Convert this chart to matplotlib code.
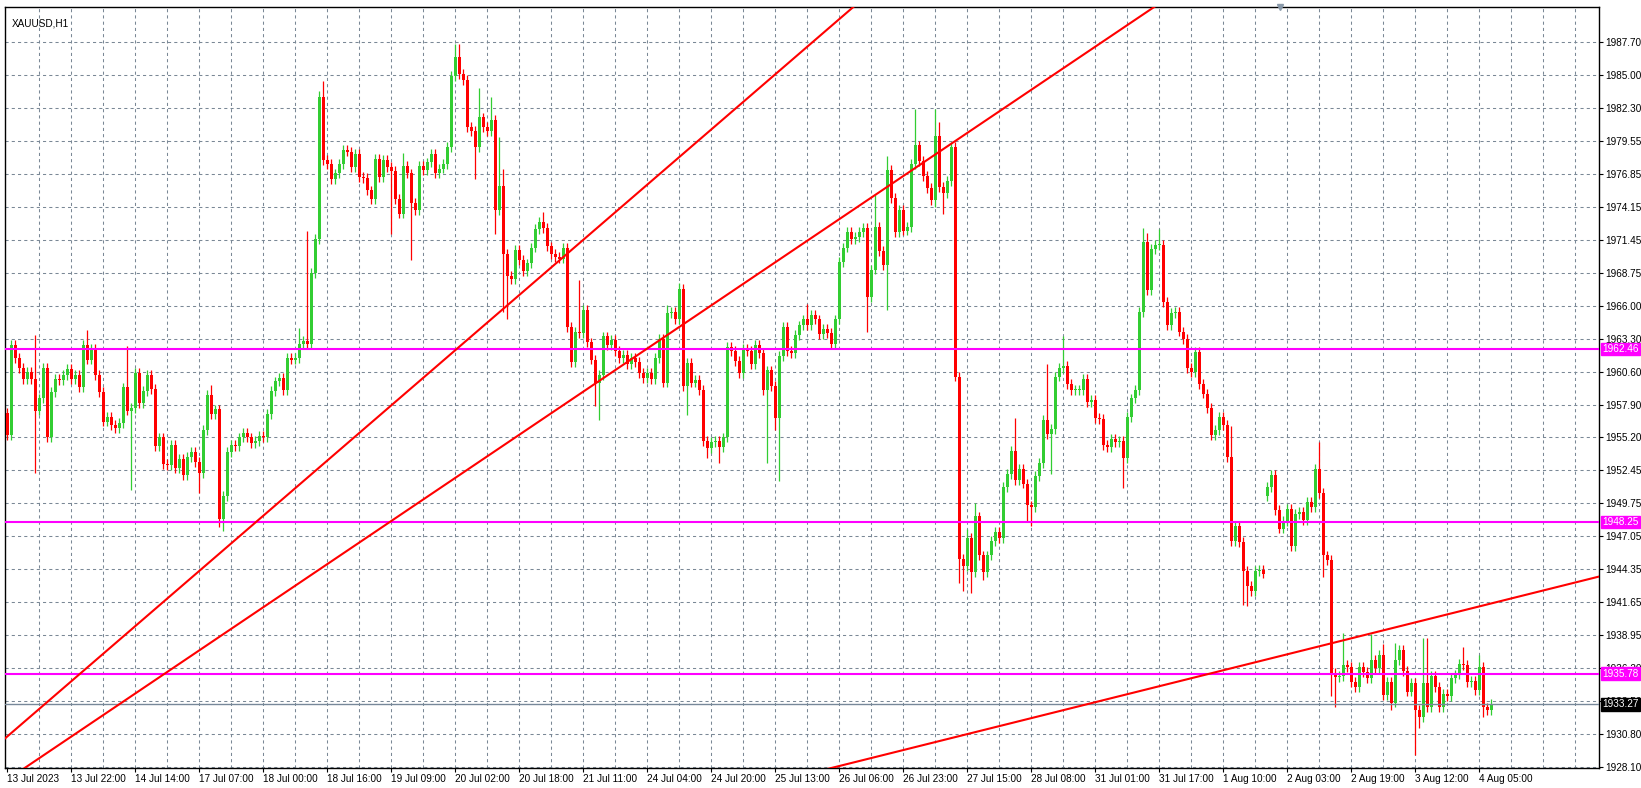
import matplotlib
matplotlib.use("Agg")
import matplotlib.pyplot as plt
import numpy as np

# ---------------- data ----------------
closes_a = [1955.4,1962.8,1961.7,1960.9,1960.0,1960.6,1960.0,1957.4,1958.4,1960.9,
 1955.2,1958.9,1960.0,1959.9,1960.3,1960.8,1960.0,1960.3,1959.3,1962.8,
 1961.6,1962.5,1960.3,1958.9,1956.5,1956.9,1956.2,1956.0,1956.4,1959.3,
 1957.4,1957.6,1960.5,1958.0,1959.0,1960.3,1959.2,1954.5,1955.2,1953.0,
 1952.9,1954.6,1952.7,1953.4,1952.1,1953.6,1954.0,1953.2,1952.3,1955.8,
 1958.7,1957.1,1957.5,1948.5,1950.4,1954.0,1954.6,1954.5,1955.2,1955.6,
 1955.2,1954.7,1954.9,1955.3,1955.2,1957.1,1959.0,1959.8,1960.1,1959.1,
 1961.7,1961.6,1961.7,1962.9,1963.1,1962.9,1968.7,1971.5,1983.2,1978.0]
closes_b = [1977.7,1976.4,1976.9,1977.7,1978.8,1978.7,1977.4,1978.5,1976.6,1976.5,
 1975.5,1974.8,1978.1,1976.6,1978.0,1977.4,1977.1,1974.8,1973.6,1977.5,
 1976.9,1974.5,1973.9,1977.5,1977.2,1977.8,1978.5,1976.9,1977.3,1977.7,
 1979.1,1984.9,1986.5,1985.1,1984.6,1980.7,1980.4,1979.1,1981.5,1980.7,
 1980.4,1981.3,1973.9,1975.9,1970.3,1968.5,1968.2,1970.6,1969.8,1968.9,
 1969.5,1970.8,1972.3,1972.9,1972.4,1970.9,1970.3,1970.0,1969.9,1970.8,
 1964.3,1961.4,1963.9,1963.8,1965.7,1963.0,1961.6,1959.7,1960.3,1963.5,
 1962.8,1963.2,1962.3,1961.7]
closes_c = [1962.0,1961.2,1961.7,1961.4,1960.5,1960.1,
 1960.5,1960.0,1961.7,1963.3,1959.7,1965.4,1965.5,1964.9,1967.4,1959.4,
 1961.3,1959.7,1959.9,1959.1,1954.9,1954.3,1954.8,1954.9,1954.4,1955.2,
 1962.6,1962.3,1961.5,1960.5,1962.5,1962.3,1961.2,1962.8,1962.1,1959.1,
 1960.7,1959.4,1956.8,1961.9,1964.3,1962.3,1962.1,1963.6,1964.4,1964.9,
 1964.4,1965.3,1964.9,1963.7,1964.1,1963.8,1962.9,1964.9,1969.6,1970.8,
 1972.1,1971.5,1971.7,1972.1,1972.4,1966.7,1969.0,1972.5,1970.5,1969.4,
 1977.2,1974.9,1972.1,1973.9,1972.2,1972.5,1977.7,1979.2,1977.9,1976.7,
 1975.7,1974.7,1980.0,1975.8,1975.3,1976.3,1979.1,1960.2]
closes_d = [1945.2,1944.6,1946.9,1944.1,1948.7,1945.5,1944.1,1945.5,1946.7,1947.4,
 1946.9,1951.1,1952.2,1954.1,1951.7,1952.6,1951.4,1949.6,1949.5,1952.0,
 1953.1,1956.6,1955.5,1955.9,1960.2,1960.9,1961.1,1959.6,1959.1,1959.1,
 1959.1,1960.0,1958.1,1958.3,1956.8,1956.7,1954.6,1954.4,1955.1,1954.8,
 1954.9,1953.5,1956.9,1958.4,1959.1,1965.5,1971.3,1967.3,1970.7,1971.0,
 1971.0,1966.3,1964.4,1965.4,1965.5,1963.9,1963.3,1960.9,1960.6,1962.2,
 1959.6,1958.8,1957.6,1955.4,1955.8,1956.9]
closes_e = [1956.2,1953.6,1946.7,1947.9,1946.6,1944.2,1943.0,1942.6,1944.2,1944.3,
 1944.0,1951.1,1952.1,1949.2,1947.7,1948.3,1949.3,1946.3,1948.9,1949.1,
 1948.4,1949.9,1949.5,1952.6,1950.6,1945.5,1945.1,1935.8,1935.5,1935.6,
 1936.5,1936.3,1935.1,1934.7,1936.3,1935.9,1935.4,1936.9,1936.2,1937.3,
 1934.0,1935.1,1933.4,1936.9,1937.7,1936.0,1934.3,1935.0,1932.8,1932.2,
 1935.0,1933.0,1935.6,1934.7,1933.0,1934.1,1933.9,1935.4,1935.7,1936.6,
 1936.5,1935.1,1935.2,1934.4,1936.3,1933.0,1932.8,1933.3]
closes = closes_a + closes_b + closes_c + closes_d + closes_e

first_open = 1957.2
open_gaps = {315: 1950.4}
wick_size = 0.4
high_marks = {7: 1963.6, 20: 1964.0, 30: 1962.7, 51: 1959.5, 73: 1964.2, 75: 1972.2,
              78: 1983.7, 79: 1984.5, 99: 1978.6, 112: 1987.5, 113: 1987.5, 118: 1983.9,
              121: 1983.2, 123: 1979.9, 124: 1977.3, 134: 1973.7, 143: 1968.1,
              165: 1966.1, 168: 1967.9, 200: 1966.2, 217: 1975.1, 220: 1978.3,
              227: 1982.2, 232: 1982.2, 233: 1981.1, 240: 1947.7, 242: 1949.8,
              252: 1956.8, 260: 1961.2, 264: 1963.5, 284: 1972.4, 285: 1972.0,
              288: 1972.3, 306: 1956.1, 327: 1953.0, 328: 1954.8, 334: 1939.1,
              341: 1939.0, 344: 1938.2, 347: 1938.3, 354: 1938.7, 355: 1938.7,
              364: 1938.0, 368: 1937.3}
low_marks = {7: 1952.3, 31: 1950.9, 48: 1950.6, 53: 1947.8, 54: 1947.5, 96: 1971.9,
             101: 1969.8, 117: 1976.4, 122: 1971.9, 124: 1965.5, 125: 1964.9,
             147: 1957.8, 148: 1956.6, 170: 1957.0, 175: 1953.5, 178: 1953.1,
             190: 1953.1, 192: 1955.8, 193: 1951.6, 215: 1963.9, 220: 1965.7,
             232: 1974.1, 234: 1973.6, 238: 1943.2, 239: 1942.6, 241: 1942.4,
             244: 1943.5, 255: 1948.3, 256: 1947.9, 261: 1952.2, 279: 1951.0,
             309: 1941.4, 310: 1941.3, 329: 1943.7, 331: 1933.9, 332: 1933.0,
             346: 1932.8, 352: 1929.1, 353: 1931.3, 369: 1932.2}

time_labels = ["13 Jul 2023", "13 Jul 22:00", "14 Jul 14:00", "17 Jul 07:00", "18 Jul 00:00",
               "18 Jul 16:00", "19 Jul 09:00", "20 Jul 02:00", "20 Jul 18:00", "21 Jul 11:00",
               "24 Jul 04:00", "24 Jul 20:00", "25 Jul 13:00", "26 Jul 06:00", "26 Jul 23:00",
               "27 Jul 15:00", "28 Jul 08:00", "31 Jul 01:00", "31 Jul 17:00", "1 Aug 10:00",
               "2 Aug 03:00", "2 Aug 19:00", "3 Aug 12:00", "4 Aug 05:00"]
price_labels = ["1928.10", "1930.80", "1933.50", "1936.20", "1938.95", "1941.65", "1944.35",
                "1947.05", "1949.75", "1952.45", "1955.20", "1957.90", "1960.60", "1963.30",
                "1966.00", "1968.75", "1971.45", "1974.15", "1976.85", "1979.55", "1982.30",
                "1985.00", "1987.70"]
levels = [1962.46, 1948.25, 1935.78]
current_price = 1933.27
# trend lines: (bar index, price) anchor pairs
trend_lines = [((74.9, 1951.85), (153.2, 1974.05)),
               ((111.9, 1951.85), (153.2, 1961.0)),
               ((288.2, 1934.76), (383.2, 1942.55))]

# ---------------- figure ----------------
FONT = "Liberation Sans"
FS = 7.2
W, H = 1641, 788
fig = plt.figure(figsize=(W / 100, H / 100), dpi=100)
L, R, T, B = 5, 1599, 7, 768
ax = fig.add_axes([L / W, 1 - B / H, (R - L) / W, (B - T) / H])
x0 = (L - 7.3) / 4
x1 = (R - 7.3) / 4
ax.set_xlim(x0, x1)
ymin, ymax = 1928.02, 1990.58
ax.set_ylim(ymin, ymax)

grid_c = "#7a8896"
tick_pos = [1928.10 + k * (1987.70 - 1928.10) / 22 for k in range(23)]
for yv in tick_pos:
    ax.axhline(yv, color=grid_c, lw=0.75, ls=(0, (3, 3)), zorder=0)
for xv in np.arange(8, x1, 8):
    ax.axvline(xv, color=grid_c, lw=0.75, ls=(0, (3, 3)), zorder=0)

n = len(closes)
idx = np.arange(n)
opens = [first_open] + closes[:-1]
for k, v in open_gaps.items():
    opens[k] = v
opens = np.array(opens)
cl = np.array(closes)
top = np.maximum(opens, cl)
bot = np.minimum(opens, cl)
highs = top + wick_size
lows = bot - wick_size
for k, v in high_marks.items():
    highs[k] = max(v, top[k])
for k, v in low_marks.items():
    lows[k] = min(v, bot[k])

cols = np.where(cl >= opens, "#32cd32", "#ff0000")
ax.vlines(idx, lows, highs, colors=cols, lw=0.9, zorder=3)
bh = np.maximum(top - bot, 0.08)
ax.bar(idx, bh, bottom=bot, width=0.75, color=cols, edgecolor=cols, lw=0, zorder=4)

# levels
for lv in levels:
    ax.axhline(lv, color="#ff00ff", lw=1.5, zorder=5)
ax.axhline(current_price, color="#778899", lw=1.0, zorder=5)

# trend lines
xs = np.array([x0, x1])
for (a, pa), (b, pb) in trend_lines:
    s = (pb - pa) / (b - a)
    ax.plot(xs, pa + s * (xs - a), color="#ff0000", lw=1.5, zorder=6)

# axes styling
for sp in ax.spines.values():
    sp.set_color("black")
    sp.set_linewidth(1.0)
ax.yaxis.tick_right()
ax.set_yticks(tick_pos)
ax.set_yticklabels(price_labels, fontsize=FS, family=FONT)
ax.set_xticks(np.arange(0, 16 * len(time_labels), 16))
ax.set_xticklabels(time_labels, fontsize=FS, ha="left", family=FONT)
ax.tick_params(axis="both", direction="out", length=3, width=0.8, colors="black", pad=1.5)

tr = ax.get_yaxis_transform()
for lv in levels:
    ax.text(1.002, lv, f"{lv:.2f}", transform=tr, fontsize=FS, family=FONT, color="white",
            va="center", ha="left", bbox=dict(facecolor="#ff00ff", edgecolor="#ff00ff", pad=1.0),
            zorder=10, clip_on=False)
ax.text(1.002, current_price, f"{current_price:.2f}", transform=tr, fontsize=FS, family=FONT,
        color="white", va="center", ha="left",
        bbox=dict(facecolor="black", edgecolor="black", pad=1.0), zorder=10, clip_on=False)

ax.text(0.004, 0.985, "XAUUSD,H1", transform=ax.transAxes, fontsize=FS, family=FONT,
        va="top", ha="left")
ax.plot([(1222 / 0.955 - 7.3) / 4], [ymax], marker="v", color="#8a9aaa", ms=5, clip_on=False,
        zorder=7)

fig.savefig("out.png", dpi=100, facecolor="white")
